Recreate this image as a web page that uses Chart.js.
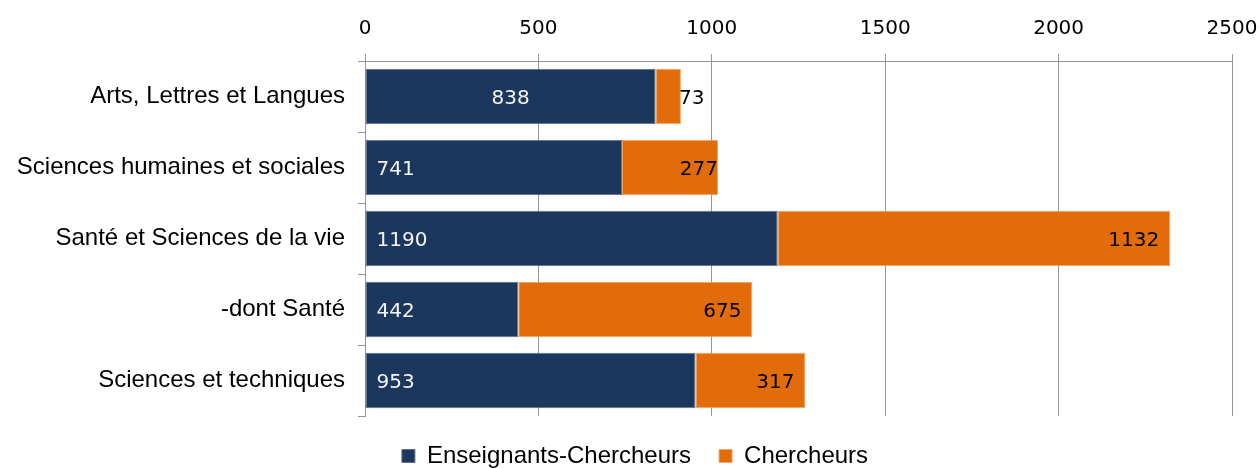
<!DOCTYPE html>
<html>
<head>
<meta charset="utf-8">
<script src="https://cdn.jsdelivr.net/npm/chart.js@4.4.1/dist/chart.umd.min.js"></script>
<style>
  html, body { margin: 0; padding: 0; background: #fff; }
  #wrap { width: 1260px; height: 468px; position: relative; }
</style>
</head>
<body>
<div id="wrap"><canvas id="chart1"></canvas></div>
<script>
// Données
const categories = [
  'Arts, Lettres et Langues',
  'Sciences humaines et sociales',
  'Santé et Sciences de la vie',
  '-dont Santé',
  'Sciences et techniques'
];
const enseignantsChercheurs = [838, 741, 1190, 442, 953];
const chercheurs = [73, 277, 1132, 675, 317];
const seriesNames = ['Enseignants-Chercheurs', 'Chercheurs'];
const xTicks = [0, 500, 1000, 1500, 2000, 2500];

// placement des étiquettes (comme dans le graphique d'origine)
const labelPlacement = [
  ['center', 'start', 'start', 'start', 'start'],
  ['after', 'flush', 'end', 'end', 'end']
];

const valueLabels = {
  id: 'valueLabels',
  afterDatasetsDraw(chart) {
    const ctx = chart.ctx;
    ctx.save();
    ctx.font = '20px "DejaVu Sans"';
    ctx.textBaseline = 'middle';
    chart.data.datasets.forEach((ds, di) => {
      const meta = chart.getDatasetMeta(di);
      meta.data.forEach((bar, i) => {
        const txt = String(ds.data[i]);
        const pos = labelPlacement[di][i];
        const x0 = Math.min(bar.base, bar.x), x1 = Math.max(bar.base, bar.x);
        let x;
        if (pos === 'center') { ctx.textAlign = 'center'; x = (x0 + x1) / 2; }
        else if (pos === 'start') { ctx.textAlign = 'left'; x = x0 + 11; }
        else if (pos === 'after') { ctx.textAlign = 'left'; x = x1 - 2; }
        else if (pos === 'flush') { ctx.textAlign = 'right'; x = x1; }
        else { ctx.textAlign = 'right'; x = x1 - 11; }
        ctx.fillStyle = di === 0 ? '#f4f4f4' : '#000';
        ctx.fillText(txt, x, bar.y + 2);
      });
    });
    ctx.restore();
  }
};

const ctx = document.getElementById('chart1').getContext('2d');
new Chart(ctx, {
  type: 'bar',
  data: {
    labels: categories,
    datasets: [
      {
        label: seriesNames[0],
        data: enseignantsChercheurs,
        backgroundColor: '#1b375e',
        borderColor: '#5d6f88',
        borderWidth: 1,
        borderSkipped: false
      },
      {
        label: seriesNames[1],
        data: chercheurs,
        backgroundColor: '#e36c0a',
        borderColor: '#f3a468',
        borderWidth: 1,
        borderSkipped: false
      }
    ]
  },
  options: {
    indexAxis: 'y',
    responsive: true,
    maintainAspectRatio: false,
    animation: false,
    layout: { padding: { left: 10, right: 0, top: 0, bottom: -10 } },
    datasets: { bar: { categoryPercentage: 1, barPercentage: 0.78 } },
    scales: {
      x: {
        position: 'top',
        stacked: true,
        min: 0,
        max: 2500,
        afterBuildTicks: (s) => { s.ticks = xTicks.map(v => ({ value: v })); },
        afterFit: (s) => { s.height = 61; s.paddingRight = 28; },
        grid: { color: '#969696', lineWidth: 1, tickLength: 7 },
        border: { color: '#969696' },
        ticks: {
          color: '#000',
          font: { family: '"DejaVu Sans"', size: 20 },
          padding: 13,
          maxRotation: 0,
          callback: (v) => String(v)
        }
      },
      y: {
        stacked: true,
        afterFit: (s) => { s.width = 355; },
        grid: { offset: true, drawOnChartArea: false, color: '#969696', tickLength: 7 },
        border: { color: '#969696' },
        ticks: {
          color: '#000',
          font: { family: '"Liberation Sans"', size: 24 },
          padding: 13
        }
      }
    },
    plugins: {
      legend: {
        position: 'bottom',
        labels: {
          color: '#000',
          font: { family: '"Liberation Sans"', size: 24 },
          boxWidth: 13,
          boxHeight: 13,
          padding: 28,
          useBorderRadius: false
        }
      },
      tooltip: { enabled: false }
    }
  },
  plugins: [valueLabels]
});
</script>
</body>
</html>
